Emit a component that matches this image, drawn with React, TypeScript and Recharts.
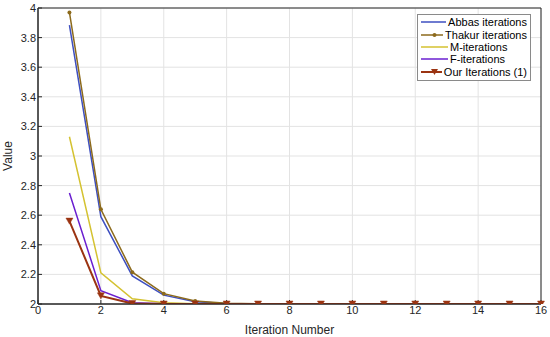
import React from 'react';
import { LineChart, Line, XAxis, YAxis, CartesianGrid, ReferenceArea } from 'recharts';

const iterations = [1, 2, 3, 4, 5, 6, 7, 8, 9, 10, 11, 12, 13, 14, 15, 16];
const abbas = [3.885, 2.59, 2.19, 2.06, 2.015, 2.004, 2.001, 2, 2, 2, 2, 2, 2, 2, 2, 2];
const thakur = [3.97, 2.64, 2.215, 2.07, 2.02, 2.005, 2.001, 2, 2, 2, 2, 2, 2, 2, 2, 2];
const mIter = [3.13, 2.21, 2.035, 2.008, 2.002, 2.0005, 2, 2, 2, 2, 2, 2, 2, 2, 2, 2];
const fIter = [2.75, 2.09, 2.008, 2.001, 2, 2, 2, 2, 2, 2, 2, 2, 2, 2, 2, 2];
const ourIter = [2.56, 2.055, 2.003, 2, 2, 2, 2, 2, 2, 2, 2, 2, 2, 2, 2, 2];
const xTicks = [0, 2, 4, 6, 8, 10, 12, 14, 16];
const yTicks = [2, 2.2, 2.4, 2.6, 2.8, 3, 3.2, 3.4, 3.6, 3.8, 4];

const seriesNames = ['Abbas iterations', 'Thakur iterations', 'M-iterations', 'F-iterations', 'Our Iterations (1)'];
const colors = ['#3e4fc0', '#8c6a1c', '#d4c231', '#6a1fd0', '#9b3412'];

const data = iterations.map((it, i) => ({
  it,
  abbas: abbas[i],
  thakur: thakur[i],
  m: mIter[i],
  f: fIter[i],
  our: ourIter[i],
}));

const FONT = 'Liberation Sans, Arial, sans-serif';

const DownTriangle = (props: any) => {
  const { cx, cy } = props;
  if (cx == null || cy == null) return null;
  return <path d={`M${cx - 3.5},${cy - 3} L${cx + 3.5},${cy - 3} L${cx},${cy + 3} Z`} fill={colors[4]} stroke={colors[4]} strokeWidth={0.5} />;
};

const SmallDot = (props: any) => {
  const { cx, cy } = props;
  if (cx == null || cy == null) return null;
  return <circle cx={cx} cy={cy} r={2} fill={colors[1]} stroke="none" />;
};

const LegendBox = () => (
  <div
    style={{
      position: 'absolute',
      left: 417,
      top: 14,
      border: '1px solid #8a8a8a',
      background: '#fff',
      padding: '1px 3px 2px 3px',
      fontFamily: FONT,
      fontSize: 11,
      color: '#000',
      width: 106,
      boxSizing: 'content-box',
    }}
  >
    {seriesNames.map((n, i) => (
      <div key={n} style={{ display: 'flex', alignItems: 'center', height: 12.4, lineHeight: '12px', whiteSpace: 'nowrap' }}>
        <svg width={27} height={8} style={{ marginRight: 2 }}>
          <line x1={0} y1={4} x2={27} y2={4} stroke={colors[i]} strokeWidth={i === 4 ? 2 : 1.5} />
          {i === 1 && <circle cx={13.5} cy={4} r={2} fill={colors[1]} />}
          {i === 4 && <path d="M10,1 L17,1 L13.5,7 Z" fill={colors[4]} />}
        </svg>
        <span>{n}</span>
      </div>
    ))}
  </div>
);

const YLabel = (props: any) => {
  const vb = props.viewBox || {};
  const cy = (vb.y ?? 8) + (vb.height ?? 296) / 2;
  return (
    <text x={12} y={cy} transform={`rotate(-90, 12, ${cy})`} textAnchor="middle" fontSize={12} fill="#262626" fontFamily={FONT}>
      Value
    </text>
  );
};

export default function App() {
  return (
    <div style={{ position: 'absolute', left: 0, top: 0, width: 550, height: 337, background: '#fff' }}>
      <LineChart width={550} height={337} data={data} margin={{ top: 8, right: 9, bottom: 0, left: 0 }}>
        <CartesianGrid stroke="#e3e3e3" strokeWidth={1} />
        <XAxis
          dataKey="it"
          type="number"
          domain={[0, 16]}
          ticks={xTicks}
          height={33}
          tick={{ fontSize: 11, fill: '#262626', fontFamily: FONT }}
          tickSize={-4}
          tickMargin={6}
          stroke="#262626"
          axisLine={{ stroke: '#262626' }}
          label={{ value: 'Iteration Number', position: 'insideBottom', offset: 3, fontSize: 12, fill: '#262626', fontFamily: FONT }}
        />
        <YAxis
          type="number"
          domain={[2, 4]}
          ticks={yTicks}
          width={38}
          tick={{ fontSize: 11, fill: '#262626', fontFamily: FONT }}
          tickSize={-4}
          tickMargin={6}
          stroke="#262626"
          tickFormatter={(v: number) => String(Math.round(v * 10) / 10)}
          label={<YLabel />}
          allowDataOverflow
        />
        <ReferenceArea x1={0} x2={16} y1={2} y2={4} fill="none" stroke="#262626" strokeWidth={1} ifOverflow="visible" />
        <Line dataKey="abbas" stroke={colors[0]} strokeWidth={1.5} dot={false} isAnimationActive={false} />
        <Line dataKey="thakur" stroke={colors[1]} strokeWidth={1.5} dot={<SmallDot />} isAnimationActive={false} />
        <Line dataKey="m" stroke={colors[2]} strokeWidth={1.5} dot={false} isAnimationActive={false} />
        <Line dataKey="f" stroke={colors[3]} strokeWidth={1.5} dot={false} isAnimationActive={false} />
        <Line dataKey="our" stroke={colors[4]} strokeWidth={2} dot={<DownTriangle />} isAnimationActive={false} />
      </LineChart>
      <LegendBox />
    </div>
  );
}
